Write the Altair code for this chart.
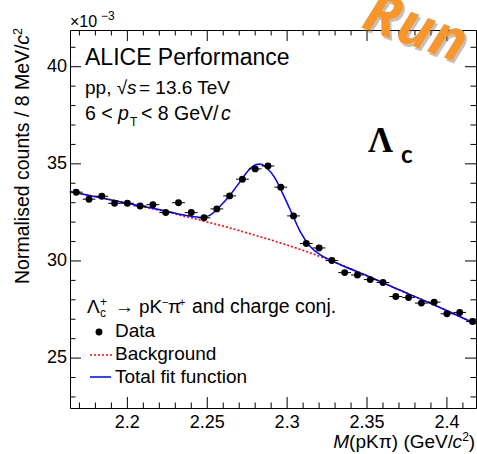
import altair as alt
import pandas as pd

# ---------------- data ----------------
mass = [2.168, 2.176, 2.184, 2.192, 2.200, 2.208, 2.216, 2.224, 2.232, 2.240,
        2.248, 2.256, 2.264, 2.272, 2.280, 2.288, 2.296, 2.304, 2.312, 2.320,
        2.328, 2.336, 2.344, 2.352, 2.360, 2.368, 2.376, 2.384, 2.392, 2.400,
        2.408, 2.416]
counts = [33.54, 33.18, 33.33, 32.97, 32.97, 32.83, 32.90, 32.49, 33.00, 32.49,
          32.22, 32.68, 33.35, 34.21, 34.74, 34.89, 33.80, 32.32, 30.90, 30.67,
          30.02, 29.40, 29.28, 29.04, 28.89, 28.17, 28.12, 27.83, 27.88, 27.28,
          27.35, 26.88]
half_bin = 0.004

bkg_mass = [2.164, 2.200, 2.233, 2.250, 2.265, 2.283, 2.300, 2.315, 2.329,
            2.350, 2.366, 2.390, 2.418]
bkg_val = [33.58, 32.97, 32.36, 32.01, 31.68, 31.25, 30.82, 30.40, 29.96,
           29.24, 28.66, 27.81, 26.76]

fit_mass = [2.164, 2.200, 2.2205, 2.233, 2.2413, 2.2466, 2.2518, 2.258, 2.2643,
            2.2705, 2.2757, 2.2799, 2.283, 2.2872, 2.2924, 2.2976, 2.3029, 2.3081,
            2.3143, 2.3206, 2.3268, 2.333, 2.350, 2.366, 2.390, 2.418]
fit_val = [33.58, 32.97, 32.64, 32.40, 32.28, 32.24, 32.36, 32.82, 33.40,
           34.08, 34.66, 34.94, 34.99, 34.80, 34.26, 33.40, 32.46, 31.52,
           30.76, 30.32, 30.05, 29.82, 29.24, 28.66, 27.81, 26.76]

x_major = [2.2, 2.25, 2.3, 2.35, 2.4]
x_major_labels = ["2.2", "2.25", "2.3", "2.35", "2.4"]
x_minor = [2.17, 2.18, 2.19, 2.21, 2.22, 2.23, 2.24, 2.26, 2.27, 2.28, 2.29,
           2.31, 2.32, 2.33, 2.34, 2.36, 2.37, 2.38, 2.39, 2.41]
y_major = [25, 30, 35, 40]
y_major_labels = ["25", "30", "35", "40"]
y_minor = [23, 24, 26, 27, 28, 29, 31, 32, 33, 34, 36, 37, 38, 39, 41]
x_domain = [2.1641, 2.4182]
y_domain = [22.43, 41.89]

legend_labels = ["Data", "Background", "Total fit function"]

W, H = 406, 378
FONT = "Liberation Sans"

xs = alt.Scale(domain=x_domain, nice=False, zero=False)
ys = alt.Scale(domain=y_domain, nice=False, zero=False)

pts = pd.DataFrame({"m": mass, "c": counts})
pts["lo"] = pts["m"] - half_bin
pts["hi"] = pts["m"] + half_bin
bkg = pd.DataFrame({"m": bkg_mass, "c": bkg_val})
fit = pd.DataFrame({"m": fit_mass, "c": fit_val})
one = pd.DataFrame({"k": [0]})

layers = []

# background and total fit
layers.append(alt.Chart(bkg).mark_line(color="#ff0000", strokeWidth=1.6, strokeDash=[2, 2],
                                        interpolate="monotone").encode(
    x=alt.X("m:Q", scale=xs, axis=None), y=alt.Y("c:Q", scale=ys, axis=None)))
layers.append(alt.Chart(fit).mark_line(color="#0000ff", strokeWidth=1.5,
                                        interpolate="monotone").encode(
    x=alt.X("m:Q", scale=xs, axis=None), y=alt.Y("c:Q", scale=ys, axis=None)))

# data: horizontal bin-width bars + markers
layers.append(alt.Chart(pts).mark_rule(color="black", strokeWidth=1).encode(
    x=alt.X("lo:Q", scale=xs, axis=None), x2="hi:Q",
    y=alt.Y("c:Q", scale=ys, axis=None)))
layers.append(alt.Chart(pts).mark_circle(color="black", size=48, opacity=1).encode(
    x=alt.X("m:Q", scale=xs, axis=None), y=alt.Y("c:Q", scale=ys, axis=None)))

# inward ticks on all four sides
def xticks(vals, length):
    df = pd.DataFrame({"v": vals})
    bot = alt.Chart(df).mark_rule(color="black", strokeWidth=1).encode(
        x=alt.X("v:Q", scale=xs, axis=None), y=alt.value(H), y2=alt.value(H - length))
    top = alt.Chart(df).mark_rule(color="black", strokeWidth=1).encode(
        x=alt.X("v:Q", scale=xs, axis=None), y=alt.value(0), y2=alt.value(length))
    return [bot, top]

def yticks(vals, length):
    df = pd.DataFrame({"v": vals})
    left = alt.Chart(df).mark_rule(color="black", strokeWidth=1).encode(
        y=alt.Y("v:Q", scale=ys, axis=None), x=alt.value(0), x2=alt.value(length))
    right = alt.Chart(df).mark_rule(color="black", strokeWidth=1).encode(
        y=alt.Y("v:Q", scale=ys, axis=None), x=alt.value(W), x2=alt.value(W - length))
    return [left, right]

layers += xticks(x_major, 11) + xticks(x_minor, 5.5) + yticks(y_major, 11) + yticks(y_minor, 5.5)

# tick labels, placed through the scales
layers.append(alt.Chart(pd.DataFrame({"v": x_major, "t": x_major_labels})).mark_text(
    font=FONT, fontSize=18, align="center", baseline="top", color="black").encode(
    x=alt.X("v:Q", scale=xs, axis=None), y=alt.value(H + 6), text="t:N"))
layers.append(alt.Chart(pd.DataFrame({"v": y_major, "t": y_major_labels})).mark_text(
    font=FONT, fontSize=18, align="right", baseline="middle", color="black").encode(
    y=alt.Y("v:Q", scale=ys, axis=None), x=alt.value(-3), text="t:N"))


def txt(s, x, y, size=19, align="left", baseline="alphabetic", **kw):
    return alt.Chart(one).mark_text(text=s, font=kw.pop("font", FONT), fontSize=size,
                                    align=align, baseline=baseline,
                                    color=kw.pop("color", "black"), **kw).encode(
        x=alt.value(x), y=alt.value(y))

# exponent label
layers.append(txt("×10", 0, -3, 16))
layers.append(txt("−3", 31, -10, 12))

# header texts
layers.append(txt("ALICE Performance", 15, 35, 23))
layers.append(txt("pp, √", 15, 64, 19))
layers.append(txt("s", 57, 64, 19, fontStyle="italic"))
layers.append(txt(" = 13.6 TeV", 69, 64, 19))
layers.append(txt("6 <", 15, 90, 19.5))
layers.append(txt("p", 48, 90, 19.5, fontStyle="italic"))
layers.append(txt("T", 60, 96, 12))
layers.append(txt("< 8 GeV/", 71, 90, 19.5))
layers.append(txt("c", 151, 90, 19.5, fontStyle="italic"))

# Lambda_c symbol
layers.append(txt("Λ", 298, 122, 35, font="Liberation Serif", fontWeight="bold"))
layers.append(txt("c", 331, 133, 24, font="Lato", fontWeight="bold"))

# "Run" stamp
layers.append(txt("Run", 292, 0, 58, font="Open Sans", fontWeight="bold", fontStyle="italic",
                  angle=20, color="#777777", opacity=0.45))
layers.append(txt("Run", 290, -3, 58, font="Open Sans", fontWeight="bold", fontStyle="italic",
                  angle=20, color="#F7962B"))

# legend
layers.append(txt("Λ", 17, 283, 19))
layers.append(txt("c", 30, 287, 12))
layers.append(txt("+", 30, 276, 12))
layers.append(txt("→", 45, 283, 19))
layers.append(txt("pK", 69, 283, 19))
layers.append(txt("−", 92, 276, 11))
layers.append(txt("π", 98, 283, 19))
layers.append(txt("+", 109, 276, 11))
layers.append(txt("and charge conj.", 122, 283, 19.5))

layers.append(alt.Chart(one).mark_point(shape="circle", filled=True, color="black", size=48,
                                         opacity=1).encode(x=alt.value(29), y=alt.value(302)))
layers.append(txt(legend_labels[0], 45, 307, 19))
layers.append(alt.Chart(one).mark_rule(color="#ff0000", strokeWidth=1.6, strokeDash=[2, 2]).encode(
    x=alt.value(20), x2=alt.value(42), y=alt.value(325)))
layers.append(txt(legend_labels[1], 45, 330, 19))
layers.append(alt.Chart(one).mark_rule(color="#0000ff", strokeWidth=1.5).encode(
    x=alt.value(20), x2=alt.value(41), y=alt.value(347)))
layers.append(txt(legend_labels[2], 45, 353, 19))

# axis titles (pieces so that italics match)
layers.append(txt(")", 405, 418, 19, align="right"))
layers.append(txt("2", 399, 411, 12, align="right"))
layers.append(txt("c", 392, 418, 19, align="right", fontStyle="italic"))
layers.append(txt("(pKπ) (GeV/", 383, 418, 19, align="right"))
layers.append(txt("M", 279, 418, 19, align="right", fontStyle="italic"))

layers.append(txt("2", -48, -2, 12.5, align="right", angle=270))
layers.append(txt("c", -41, 5, 19.5, align="right", angle=270, fontStyle="italic"))
layers.append(txt("Normalised counts / 8 MeV/", -41, 14.5, 19.5, align="right", angle=270))

chart = alt.layer(*layers).properties(
    width=W, height=H,
    padding={"left": 70, "top": 30, "right": 1, "bottom": 46},
    autosize=alt.AutoSizeParams(type="none"),
    background="white",
).configure_view(stroke="black", strokeWidth=1)

chart.save("out.html", embed_options={"renderer": "svg", "actions": False})
